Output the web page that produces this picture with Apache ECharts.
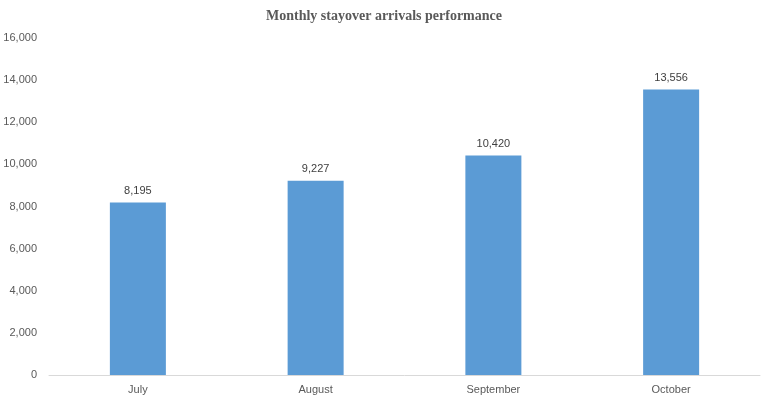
<!DOCTYPE html>
<html>
<head>
<meta charset="utf-8">
<script src="https://cdn.jsdelivr.net/npm/echarts@6/dist/echarts.min.js"></script>
<style>
html,body{margin:0;padding:0;background:#fff;}
#c{width:768px;height:399px;}
</style>
</head>
<body>
<div id="c"></div>
<script>
const categories = ['July', 'August', 'September', 'October'];
const arrivals = [8195, 9227, 10420, 13556];
const yTicks = [0, 2000, 4000, 6000, 8000, 10000, 12000, 14000, 16000];

const fmt = v => v.toLocaleString('en-US');
const chart = echarts.init(document.getElementById('c'));
chart.setOption({
  animation: false,
  title: {
    text: 'Monthly stayover arrivals performance',
    left: 'center',
    top: 4,
    textStyle: {fontFamily: 'Liberation Serif', fontWeight: 'bold', fontSize: 14, color: '#595959'}
  },
  grid: {left: 49, right: 8, top: 38, bottom: 24, containLabel: false},
  xAxis: {
    type: 'category',
    data: categories,
    axisLine: {lineStyle: {color: '#d9d9d9', width: 1}},
    axisTick: {show: false},
    axisLabel: {color: '#595959', fontSize: 11, fontFamily: 'Liberation Sans', margin: 9}
  },
  yAxis: {
    type: 'value',
    min: yTicks[0],
    max: yTicks[yTicks.length - 1],
    interval: 2000,
    splitLine: {show: false},
    axisLine: {show: false},
    axisTick: {show: false},
    axisLabel: {color: '#595959', fontSize: 11, fontFamily: 'Liberation Sans', margin: 12, formatter: v => fmt(v)}
  },
  series: [{
    type: 'bar',
    data: arrivals,
    barWidth: 56,
    itemStyle: {color: '#5B9BD5'},
    label: {show: true, position: 'top', distance: 6, color: '#404040', fontSize: 11, fontFamily: 'Liberation Sans', formatter: p => fmt(p.value)}
  }]
});
</script>
</body>
</html>
